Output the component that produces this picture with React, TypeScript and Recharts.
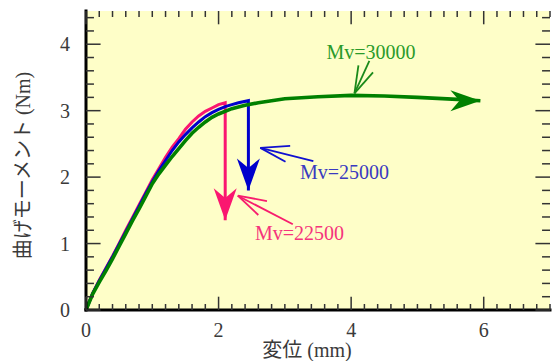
import React from "react";
import {
  LineChart,
  Line,
  XAxis,
  YAxis,
  ReferenceLine,
  ReferenceDot,
  Label,
} from "recharts";

// displacement (mm) / bending moment (Nm) for each Mv
const dispMv30000 = [0, 0.1, 0.2, 0.3, 0.4, 0.5, 0.6, 0.7, 0.8, 0.9, 1.0, 1.1, 1.2, 1.3, 1.4, 1.5, 1.6, 1.7, 1.8, 1.9, 2.0, 2.2, 2.4, 2.6, 2.8, 3.0, 3.5, 4.0, 4.5, 5.0, 5.6, 5.95];
const momentMv30000 = [0, 0.24, 0.42, 0.59, 0.77, 0.96, 1.15, 1.34, 1.52, 1.71, 1.9, 2.05, 2.18, 2.31, 2.43, 2.55, 2.66, 2.75, 2.83, 2.9, 2.95, 3.03, 3.08, 3.12, 3.15, 3.18, 3.21, 3.23, 3.22, 3.2, 3.17, 3.15];

const dispMv25000 = [0, 0.1, 0.2, 0.3, 0.4, 0.5, 0.6, 0.7, 0.8, 0.9, 1.0, 1.1, 1.2, 1.3, 1.4, 1.5, 1.6, 1.7, 1.8, 1.9, 2.0, 2.1, 2.2, 2.3, 2.45, 2.45];
const momentMv25000 = [0, 0.25, 0.44, 0.62, 0.8, 0.99, 1.18, 1.37, 1.56, 1.75, 1.93, 2.1, 2.25, 2.4, 2.53, 2.64, 2.74, 2.83, 2.91, 2.97, 3.02, 3.06, 3.09, 3.12, 3.15, 1.8];

const dispMv22500 = [0, 0.1, 0.2, 0.3, 0.4, 0.5, 0.6, 0.7, 0.8, 0.9, 1.0, 1.1, 1.2, 1.3, 1.4, 1.5, 1.6, 1.7, 1.8, 1.9, 2.0, 2.1, 2.1];
const momentMv22500 = [0, 0.25, 0.45, 0.63, 0.81, 1.0, 1.2, 1.39, 1.58, 1.77, 1.96, 2.13, 2.3, 2.45, 2.58, 2.72, 2.83, 2.92, 2.99, 3.04, 3.09, 3.12, 1.35];

const xLabels = [0, 2, 4, 6];
const yLabels = [0, 1, 2, 3, 4];

// callouts: [tip, shaft end, barb, barb] in data units, plus text anchor
const callout30000 = [[4.05, 3.26], [4.275, 3.75], [4.33, 3.575], [4.11, 3.68]];
const callout25000 = [[2.63, 2.44], [3.43, 2.24], [3.08, 2.47], [3.01, 2.23]];
const callout22500 = [[2.29, 1.72], [3.12, 1.29], [2.73, 1.64], [2.6, 1.43]];
const textAt30000 = [4.3, 3.88];
const textAt25000 = [3.9, 2.07];
const textAt22500 = [3.22, 1.16];

const toPoints = (xs: number[], ys: number[]) => xs.map((x, i) => ({ x, y: ys[i] }));

const mv30000 = toPoints(dispMv30000, momentMv30000);
const mv25000 = toPoints(dispMv25000, momentMv25000);
const mv22500 = toPoints(dispMv22500, momentMv22500);

// minor tick positions, every 0.2
const xMinor = Array.from({ length: 36 }, (_, i) => Math.round(i * 2) / 10);
const yMinor = Array.from({ length: 23 }, (_, i) => Math.round(i * 2) / 10);
const X_MAX = 7;
const Y_MAX = 4.5;

const SERIF = "Liberation Serif, DejaVu Serif, serif";
const TITLE_FONT = "Liberation Serif, Noto Sans CJK JP, serif";
const TICK = "#333";

// plot box in px (chart margins + axis sizes)
const PLOT = { left: 86, top: 11, width: 464, height: 299 };

const isMajorX = (v: number) => Math.abs(v / 2 - Math.round(v / 2)) < 1e-9;
const isMajorY = (v: number) => Math.abs(v - Math.round(v)) < 1e-9;

// tick lengths in axis units (about 13/6 px vertical, 15/8 px horizontal)
const xTickLen = (v: number) => (isMajorX(v) ? 0.2 : 0.09);
const yTickLen = (v: number) => (isMajorY(v) ? 0.22 : 0.12);

const BottomLabel = (p: any) => (
  <text x={p.x} y={p.y + 27} textAnchor="middle" fontFamily={SERIF} fontSize={20} fill="#3a3a3a">
    {p.payload.value}
  </text>
);

const LeftLabel = (p: any) => (
  <text x={p.x - 16} y={p.y + 7} textAnchor="end" fontFamily={SERIF} fontSize={20} fill="#3a3a3a">
    {p.payload.value}
  </text>
);

// short inward segment used for every tick mark
const tickSeg = (key: string, a: { x: number; y: number }, b: { x: number; y: number }) => (
  <ReferenceLine key={key} segment={[a, b]} stroke={TICK} strokeWidth={1.5} ifOverflow="visible" zIndex={600} />
);

// notched arrow head drawn on the last point of a series
const arrowHead = (dir: "down" | "right", color: string, len: number, wid: number, last: number) => (p: any) => {
  const { cx, cy, index } = p;
  if (index !== last || cx == null) return <g key={`n-${index}`} />;
  const h = wid / 2;
  const notch = len * 0.7;
  const pts =
    dir === "down"
      ? `${cx},${cy} ${cx - h},${cy - len} ${cx},${cy - notch} ${cx + h},${cy - len}`
      : `${cx},${cy} ${cx - len},${cy - h} ${cx - notch},${cy} ${cx - len},${cy + h}`;
  return <polygon key={`a-${index}`} points={pts} fill={color} />;
};

const calloutLines = (c: number[][], color: string, id: string) =>
  c.slice(1).map((end, i) => (
    <ReferenceLine
      key={`${id}-${i}`}
      segment={[
        { x: c[0][0], y: c[0][1] },
        { x: end[0], y: end[1] },
      ]}
      stroke={color}
      strokeWidth={1.8}
      ifOverflow="visible"
    />
  ));

const calloutText = (at: number[], text: string, color: string) => (
  <ReferenceDot
    x={at[0]}
    y={at[1]}
    r={0}
    ifOverflow="visible"
    shape={(p: any) => (
      <text x={p.cx} y={p.cy} textAnchor="middle" dominantBaseline="central" fontFamily={SERIF} fontSize={20} fill={color}>
        {text}
      </text>
    )}
  />
);

const axisLine = { stroke: "#000", strokeWidth: 3, strokeLinecap: "square" as const };

export default function App() {
  return (
    <div style={{ position: "absolute", left: 0, top: 0, width: 552, height: 361, background: "#fff" }}>
      {/* pale yellow plot face behind the transparent svg */}
      <div
        style={{
          position: "absolute",
          left: PLOT.left,
          top: PLOT.top,
          width: PLOT.width,
          height: PLOT.height,
          background: "#fefec8",
        }}
      />
      <LineChart
        width={552}
        height={361}
        margin={{ top: PLOT.top, right: 552 - PLOT.left - PLOT.width, bottom: 0, left: 0 }}
        style={{ position: "absolute", left: 0, top: 0 }}
      >
        <XAxis
          type="number"
          dataKey="x"
          domain={[0, X_MAX]}
          ticks={xLabels}
          interval={0}
          height={361 - PLOT.top - PLOT.height}
          tickSize={0}
          tickMargin={0}
          axisLine={axisLine}
          tick={BottomLabel}
        >
          <Label
            content={(p: any) => (
              <text
                x={p.viewBox.x + 221}
                y={p.viewBox.y + 47}
                textAnchor="middle"
                fontFamily={TITLE_FONT}
                fontSize={20}
                fill="#3a3a3a"
              >
                変位 (mm)
              </text>
            )}
          />
        </XAxis>
        <XAxis
          xAxisId="top"
          orientation="top"
          type="number"
          domain={[0, X_MAX]}
          height={0}
          tick={false}
          tickLine={false}
          axisLine={axisLine}
        />
        <YAxis
          type="number"
          domain={[0, Y_MAX]}
          ticks={yLabels}
          interval={0}
          width={PLOT.left}
          tickSize={0}
          tickMargin={0}
          axisLine={axisLine}
          tick={LeftLabel}
        >
          <Label
            content={(p: any) => {
              const cx = p.viewBox.x + 23;
              const cy = p.viewBox.y + p.viewBox.height / 2 + 5;
              return (
                <text
                  x={cx}
                  y={cy}
                  transform={`rotate(-90, ${cx}, ${cy})`}
                  textAnchor="middle"
                  dominantBaseline="central"
                  fontFamily={TITLE_FONT}
                  fontSize={20}
                  fill="#3a3a3a"
                >
                  曲げモーメント (Nm)
                </text>
              );
            }}
          />
        </YAxis>
        <YAxis
          yAxisId="right"
          orientation="right"
          type="number"
          domain={[0, Y_MAX]}
          width={0}
          tick={false}
          tickLine={false}
          axisLine={axisLine}
        />

        {/* inward ticks on all four sides */}
        {xMinor.map((v) => tickSeg(`xb-${v}`, { x: v, y: xTickLen(v) }, { x: v, y: 0 }))}
        {xMinor.map((v) => tickSeg(`xt-${v}`, { x: v, y: Y_MAX }, { x: v, y: Y_MAX - xTickLen(v) }))}
        {yMinor.map((v) => tickSeg(`yl-${v}`, { x: 0, y: v }, { x: yTickLen(v), y: v }))}
        {yMinor.map((v) => tickSeg(`yr-${v}`, { x: X_MAX - yTickLen(v), y: v }, { x: X_MAX, y: v }))}

        <Line
          data={mv22500}
          dataKey="y"
          type="linear"
          stroke="#fa1670"
          strokeWidth={3}
          strokeLinejoin="miter"
          dot={arrowHead("down", "#fa1670", 32, 23, mv22500.length - 1)}
          activeDot={false}
          isAnimationActive={false}
        />
        <Line
          data={mv25000}
          dataKey="y"
          type="linear"
          stroke="#0000cc"
          strokeWidth={3}
          strokeLinejoin="miter"
          dot={arrowHead("down", "#0000cc", 32, 23, mv25000.length - 1)}
          activeDot={false}
          isAnimationActive={false}
        />
        <Line
          data={mv30000}
          dataKey="y"
          type="linear"
          stroke="#008000"
          strokeWidth={3.6}
          dot={arrowHead("right", "#008000", 30, 21, mv30000.length - 1)}
          activeDot={false}
          isAnimationActive={false}
        />

        {calloutLines(callout30000, "#1a8a1a", "c30")}
        {calloutLines(callout25000, "#1010d0", "c25")}
        {calloutLines(callout22500, "#f71d6e", "c22")}
        {calloutText(textAt30000, "Mv=30000", "#2a9a2a")}
        {calloutText(textAt25000, "Mv=25000", "#3a3ac0")}
        {calloutText(textAt22500, "Mv=22500", "#f5347c")}
      </LineChart>
    </div>
  );
}
